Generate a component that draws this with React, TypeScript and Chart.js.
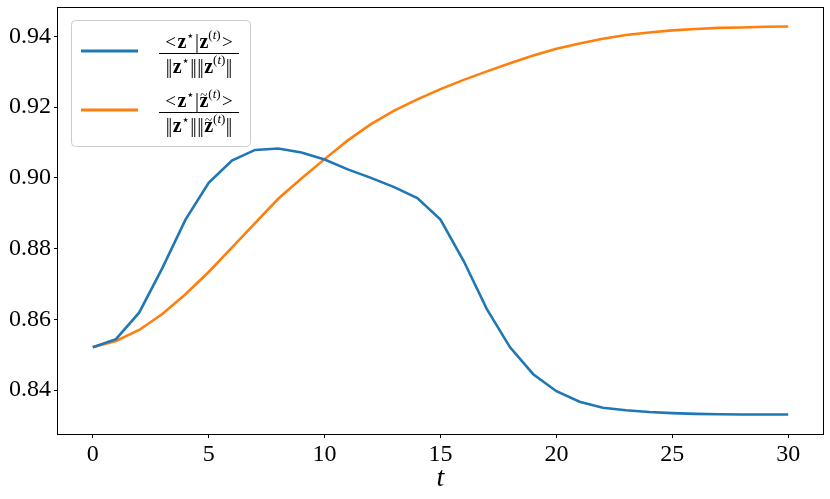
import React, { useEffect, useRef } from "react";
import { Chart, registerables } from "chart.js";

Chart.register(...registerables);

const tValues = [0, 1, 2, 3, 4, 5, 6, 7, 8, 9, 10, 11, 12, 13, 14, 15, 16, 17, 18, 19, 20, 21, 22, 23, 24, 25, 26, 27, 28, 29, 30];
const cosineZ = [0.8521, 0.8544, 0.8619, 0.8745, 0.8882, 0.8986, 0.9049, 0.9079, 0.9083, 0.9072, 0.9052, 0.9024, 0.9, 0.8974, 0.8943, 0.8882, 0.8765, 0.8629, 0.8521, 0.8445, 0.8397, 0.8367, 0.835, 0.8343, 0.8338, 0.8335, 0.8333, 0.8332, 0.8331, 0.8331, 0.8331];
const cosineZTilde = [0.8521, 0.8539, 0.857, 0.8615, 0.8671, 0.8734, 0.8803, 0.8872, 0.8941, 0.8998, 0.9053, 0.9106, 0.9152, 0.919, 0.9222, 0.9251, 0.9277, 0.9301, 0.9324, 0.9346, 0.9365, 0.938, 0.9393, 0.9404, 0.9411, 0.9417, 0.9421, 0.9424, 0.9425, 0.9427, 0.9428];
const xTicks = [0, 5, 10, 15, 20, 25, 30];
const yTicks = [0.84, 0.86, 0.88, 0.9, 0.92, 0.94];
const seriesColors = ["#1f77b4", "#ff7f0e"];
const xLabel = "t";

const SERIF = "'Liberation Serif', 'DejaVu Serif', serif";
const SYM = "'DejaVu Sans', 'Liberation Serif', sans-serif";

type Seg = { t: string; size: number; bold?: boolean; italic?: boolean; dy?: number; tilde?: boolean; kern?: number; fam?: string };

function fontOf(s: Seg) {
  return `${s.italic ? "italic " : ""}${s.bold ? "bold " : ""}${s.size}px ${s.fam || SERIF}`;
}

function drawRow(ctx: CanvasRenderingContext2D, segs: Seg[], cx: number, baseline: number) {
  let w = 0;
  const widths: number[] = [];
  for (const s of segs) {
    ctx.font = fontOf(s);
    const mw = ctx.measureText(s.t).width + (s.kern || 0);
    widths.push(mw);
    w += mw;
  }
  let x = cx - w / 2;
  ctx.textBaseline = "alphabetic";
  ctx.textAlign = "left";
  ctx.fillStyle = "#000";
  segs.forEach((s, i) => {
    ctx.font = fontOf(s);
    ctx.fillText(s.t, x, baseline + (s.dy || 0));
    if (s.tilde) {
      ctx.font = `13px ${SERIF}`;
      const tw = ctx.measureText("~").width;
      ctx.fillText("~", x + (widths[i] - (s.kern || 0) - tw) / 2, baseline - 8);
    }
    x += widths[i];
  });
}

function numerator(tilde: boolean): Seg[] {
  return [
    { t: "<", size: 19, kern: 1.5 },
    { t: "z", size: 20, bold: true },
    { t: "⋆", size: 13, dy: -8, fam: SYM, kern: 0.5 },
    { t: "|", size: 20, kern: 0.5 },
    { t: "z", size: 20, bold: true, tilde },
    { t: "(", size: 13, dy: -9 },
    { t: "t", size: 13, italic: true, dy: -9 },
    { t: ")", size: 13, dy: -9, kern: 1.5 },
    { t: ">", size: 19 },
  ];
}

function denominator(tilde: boolean): Seg[] {
  return [
    { t: "|", size: 20, kern: -1.5 },
    { t: "|", size: 20, kern: 0.5 },
    { t: "z", size: 20, bold: true },
    { t: "⋆", size: 13, dy: -8, fam: SYM, kern: 0.5 },
    { t: "|", size: 20, kern: -1.5 },
    { t: "|", size: 20, kern: 0.5 },
    { t: "|", size: 20, kern: -1.5 },
    { t: "|", size: 20, kern: 0.5 },
    { t: "z", size: 20, bold: true, tilde },
    { t: "(", size: 13, dy: -9 },
    { t: "t", size: 13, italic: true, dy: -9 },
    { t: ")", size: 13, dy: -9, kern: 0.5 },
    { t: "|", size: 20, kern: -1.5 },
    { t: "|", size: 20 },
  ];
}

const legendPlugin = {
  id: "fracLegend",
  afterDraw(chart: any) {
    const ctx: CanvasRenderingContext2D = chart.ctx;
    ctx.save();
    // frame around plot area (all four spines)
    const a = chart.chartArea;
    ctx.strokeStyle = "#000";
    ctx.lineWidth = 1;
    ctx.strokeRect(Math.round(a.left) - 0.5, Math.round(a.top) + 0.5, Math.round(a.right - a.left) + 1, Math.round(a.bottom - a.top));

    // legend box
    const bx = 71.5, by = 20.5, bw = 179, bh = 126;
    ctx.beginPath();
    (ctx as any).roundRect(bx, by, bw, bh, 4);
    ctx.fillStyle = "rgba(255,255,255,0.8)";
    ctx.fill();
    ctx.strokeStyle = "#cccccc";
    ctx.lineWidth = 1;
    ctx.stroke();

    const entries = [
      { color: seriesColors[0], lineY: 51, barY: 53.5, tilde: false },
      { color: seriesColors[1], lineY: 110, barY: 112.5, tilde: true },
    ];
    for (const e of entries) {
      ctx.strokeStyle = e.color;
      ctx.lineWidth = 3;
      ctx.beginPath();
      ctx.moveTo(81, e.lineY);
      ctx.lineTo(138, e.lineY);
      ctx.stroke();

      ctx.strokeStyle = "#000";
      ctx.lineWidth = 1;
      ctx.beginPath();
      ctx.moveTo(159, e.barY);
      ctx.lineTo(239, e.barY);
      ctx.stroke();

      drawRow(ctx, numerator(e.tilde), 199, e.barY - 6);
      drawRow(ctx, denominator(e.tilde), 199, e.barY + 19);
    }
    ctx.restore();
  },
};

export default function App() {
  const ref = useRef<HTMLCanvasElement | null>(null);

  useEffect(() => {
    document.body.style.margin = "0";
    const canvas = ref.current;
    if (!canvas) return;
    const chart = new Chart(canvas, {
      type: "line",
      data: {
        datasets: [
          {
            label: "<z*|z(t)> / ||z*|| ||z(t)||",
            data: tValues.map((t, i) => ({ x: t, y: cosineZ[i] })),
            borderColor: seriesColors[0],
            backgroundColor: seriesColors[0],
            borderWidth: 2.6,
            pointRadius: 0,
            tension: 0,
          },
          {
            label: "<z*|z~(t)> / ||z*|| ||z~(t)||",
            data: tValues.map((t, i) => ({ x: t, y: cosineZTilde[i] })),
            borderColor: seriesColors[1],
            backgroundColor: seriesColors[1],
            borderWidth: 2.6,
            pointRadius: 0,
            tension: 0,
          },
        ],
      },
      options: {
        animation: false,
        responsive: false,
        maintainAspectRatio: false,
        layout: { padding: { top: 7, right: 7, left: 0, bottom: 0 } },
        plugins: { legend: { display: false }, tooltip: { enabled: false } },
        scales: {
          x: {
            type: "linear",
            min: -1.5,
            max: 31.5,
            afterBuildTicks: (s: any) => {
              s.ticks = xTicks.map((v) => ({ value: v }));
            },
            afterFit: (s: any) => {
              s.height = 65;
              s.paddingLeft = 0;
              s.paddingRight = 0;
            },
            grid: { drawOnChartArea: false, drawTicks: true, tickLength: 4, color: "#000" },
            border: { display: false },
            ticks: {
              color: "#000",
              font: { family: SERIF, size: 24 },
              padding: 2,
              maxRotation: 0,
              autoSkip: false,
              callback: (v: any) => String(v),
            },
            title: {
              display: true,
              text: xLabel,
              color: "#000",
              font: { family: SERIF, size: 28, style: "italic" },
              padding: { top: 0, bottom: 4 },
            },
          },
          y: {
            type: "linear",
            min: 0.8276,
            max: 0.9483,
            afterBuildTicks: (s: any) => {
              s.ticks = yTicks.map((v) => ({ value: v }));
            },
            afterFit: (s: any) => {
              s.width = 58;
              s.paddingTop = 0;
              s.paddingBottom = 0;
            },
            grid: { drawOnChartArea: false, drawTicks: true, tickLength: 4, color: "#000" },
            border: { display: false },
            ticks: {
              color: "#000",
              font: { family: SERIF, size: 24 },
              padding: 3,
              autoSkip: false,
              callback: (v: any) => Number(v).toFixed(2),
            },
          },
        },
      },
      plugins: [legendPlugin],
    } as any);
    return () => chart.destroy();
  }, []);

  return (
    <div style={{ position: "fixed", left: 0, top: 0, width: 830, height: 499, background: "#fff" }}>
      <canvas ref={ref} width={830} height={499} style={{ display: "block", width: 830, height: 499 }} />
    </div>
  );
}
